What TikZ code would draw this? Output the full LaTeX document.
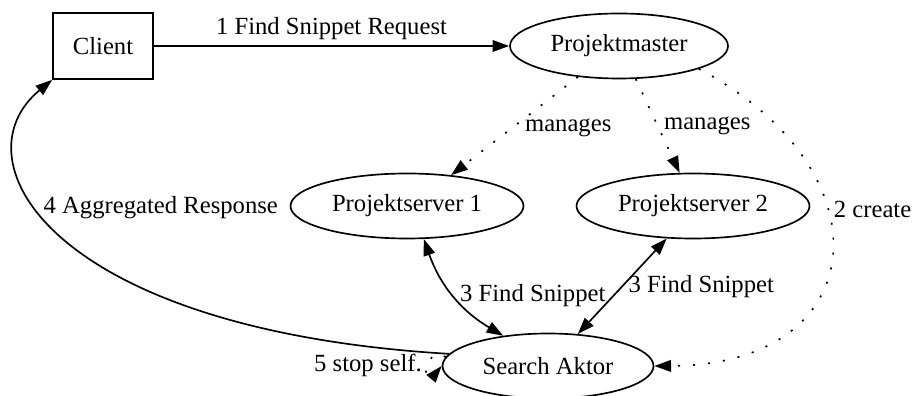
\documentclass[tikz,border=0pt]{standalone}
\usepackage{fontspec}
\setmainfont{Liberation Serif}
\usetikzlibrary{arrows.meta,shapes.geometric}

\tikzset{
  >={Triangle[length=10pt,width=7pt]},
  box/.style={draw,rectangle,inner sep=0pt,minimum width=60pt,minimum height=39.6pt},
  oval/.style={draw,ellipse,inner sep=0pt,minimum height=39pt},
  dotline/.style={dash pattern=on 1.2pt off 7.8pt}
}

\begin{document}
\begin{tikzpicture}[line width=1pt,font=\fontsize{14.8}{17}\selectfont]
    \def\x{0.6pt}
    \def\y{-0.6pt}
    \useasboundingbox (0,0) rectangle (915*\x, 396*\y);
    \node [box] (C) at (103*\x, 46*\y) {Client};
    \node [oval,minimum width=130.8pt] (PM) at (619*\x, 46*\y) {Projektmaster};
    \node [oval,minimum width=139.8pt] (PS1) at (407*\x, 206*\y) {Projektserver 1};
    \node [oval,minimum width=139.8pt] (PS2) at (693*\x, 206*\y) {Projektserver 2};
    \node [oval,minimum width=126.6pt] (SA) at (548*\x, 366*\y) {Search Aktor};
    \path (C) edge [->] node [auto] {1 Find Snippet Request} (PM);
    \path (PM.217) edge [->,dotline] node [pos=0.52,right,xshift=4pt] {manages} (PS1.35);
    \path (PM.297) edge [->,dotline] node [pos=0.5,right] {manages} (PS2.112);
    \draw [->,dotline] (PM.344) .. controls (890*\x, 170*\y) and (875*\x, 365*\y) .. (SA.east)
      node [pos=0.38,right] {2 create};
    \path (PS1.297) edge [<->,bend right=20] node [pos=0.5,right] {3 Find Snippet} (SA.146);
    \path (PS2.231) edge [<->] node [pos=0.5,right] {3 Find Snippet} (SA.47);
    \draw [->] (SA.173) .. controls (50*\x, 330*\y) and (-45*\x, 160*\y) .. (C.south west)
      node [pos=0.59,right] {4 Aggregated Response};
    \draw [->,dotline] (SA.175) .. controls (426*\x, 342*\y) and (420*\x, 392*\y) .. (SA.west)
      node [pos=0.5,left] {5 stop self.};
\end{tikzpicture}
\end{document}
